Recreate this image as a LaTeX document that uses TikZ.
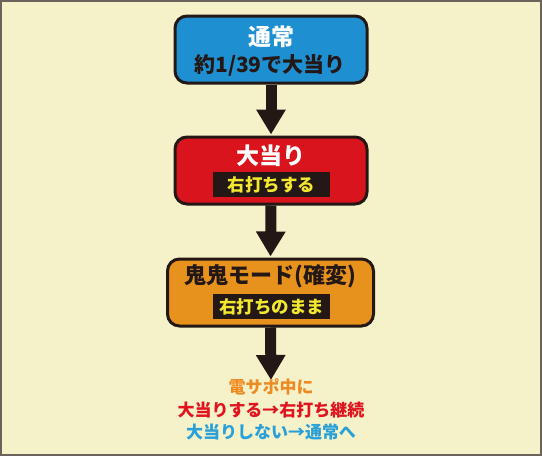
\documentclass[tikz,border=0pt]{standalone}
\usepackage{fontspec}
\newfontfamily\jp{Noto Sans CJK JP}
\usetikzlibrary{arrows.meta}
\definecolor{cream}{HTML}{F5F2C9}
\definecolor{frame}{HTML}{6B625C}
\definecolor{ink}{HTML}{231815}
\definecolor{normalblue}{HTML}{1E90D2}
\definecolor{hitred}{HTML}{D9141C}
\definecolor{oniorange}{HTML}{E8921E}
\definecolor{tagyellow}{HTML}{F2E830}
\definecolor{noteorange}{HTML}{EE8A22}
\definecolor{notered}{HTML}{E0141E}
\definecolor{noteblue}{HTML}{2AA0D8}

\begin{document}
\begin{tikzpicture}[x=1pt,y=-1pt,font=\jp\bfseries,shorten >=1pt]
  \def\bw{192pt}
  \def\bh{67pt}

\tikzstyle{box}=[draw=ink,line width=3pt,rounded corners=12pt,minimum width=\bw,minimum height=\bh]
\tikzstyle{tag}=[fill=ink,text=tagyellow,minimum width=117pt,minimum height=25pt,inner sep=0pt,font=\jp\bfseries\fontsize{17.5}{18}\selectfont]
\tikzstyle{title}=[inner sep=0pt,font=\jp\bfseries\fontsize{23}{24}\selectfont]
\tikzstyle{note}=[inner sep=0pt,font=\jp\bfseries\fontsize{17}{18}\selectfont]
\tikzstyle{flow}=[draw=ink,line width=11pt,-{Triangle[length=25pt,width=28pt]}]

\path[fill=cream,draw=frame,line width=2pt] (1,1) rectangle (541,455);
\useasboundingbox (0,0) rectangle (542,456);

\node[box,fill=normalblue] (normal) at (271,49.5) {};
\node[box,fill=hitred] (hit) at (271,170.5) {};
\node[box,fill=oniorange,minimum width=206pt] (oni) at (270.5,292.5) {};
\coordinate (end) at (271,381);

\draw[flow] (normal.south) -- (hit.north);
\draw[flow] (hit.south) -- (oni.north);
\draw[flow] (oni.south) -- (end);

\node[title,text=white] (normaltitle) at (271,37) {通常};
\node[note,text=ink,font=\jp\bfseries\fontsize{21}{22}\selectfont] (normalsub) at (270,65) {約1/39で大当り};
\node[title,text=white] (hittitle) at (271,156) {大当り};
\node[tag] (hittag) at (271.5,184.5) {右打ちする};
\node[title,text=ink,font=\jp\bfseries\fontsize{22}{23}\selectfont] (onititle) at (270.5,276) {鬼鬼モード(確変)};
\node[tag] (onitag) at (271.5,306.5) {右打ちのまま};

\node[note,text=noteorange] (note1) at (271,387) {電サポ中に};
\node[note,text=notered] (note2) at (271,410) {大当りする→右打ち継続};
\node[note,text=noteblue] (note3) at (271,432) {大当りしない→通常へ};
\end{tikzpicture}
\end{document}
